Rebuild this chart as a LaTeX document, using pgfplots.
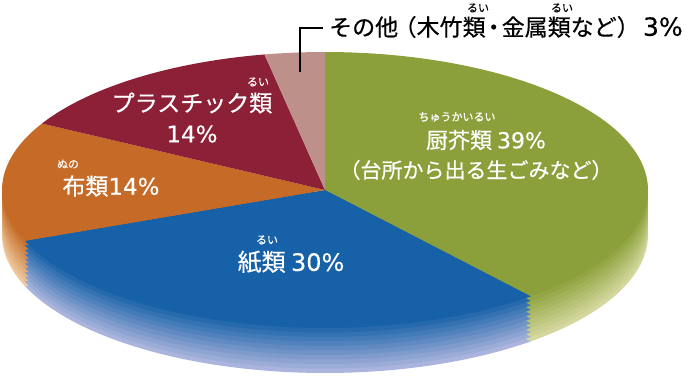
\documentclass[border=0pt]{standalone}
\usepackage{fontspec}
\setmainfont[FakeBold=0.5]{Noto Sans CJK JP}
\newfontfamily\lat[FakeBold=0.3]{DejaVu Sans}
\usepackage{pgfplots}
\pgfplotsset{compat=1.18}
\definecolor{cgreen}{RGB}{139,160,58}
\definecolor{cblue}{RGB}{23,97,168}
\definecolor{corange}{RGB}{197,106,39}
\definecolor{cred}{RGB}{140,32,54}
\definecolor{cpink}{RGB}{189,145,138}
\definecolor{lgreen}{RGB}{212,216,158}
\definecolor{lblue}{RGB}{170,180,220}
\definecolor{lorange}{RGB}{238,200,156}
% data (percent)
\def\vA{39}\def\vB{30}\def\vC{14}\def\vD{14}\def\vE{3}
\pgfmathsetmacro{\aO}{90}
\pgfmathsetmacro{\aA}{\aO-3.6*\vA}
\pgfmathsetmacro{\aB}{\aA-3.6*\vB}
\pgfmathsetmacro{\aC}{\aB-3.6*\vC}
\pgfmathsetmacro{\aD}{\aC-3.6*\vD}
\pgfmathsetmacro{\aE}{\aD-3.6*\vE}
\def\cx{325}\def\cy{190}\def\ra{323}\def\rb{138}
\newcommand\fs[1]{\fontsize{#1}{#1}\selectfont}
\begin{document}
\begin{tikzpicture}
\begin{axis}[x=1pt,y=1pt,xmin=0,xmax=690,ymin=0,ymax=376,y dir=reverse,
  scale only axis,hide axis,clip=false]
\path (0,0) rectangle (690,376);
% side layers
\pgfplotsinvokeforeach{0,10,...,90}{
  \addplot[fill=cgreen!#1!lgreen,draw=none,domain=\aA:\aO,samples=90,variable=\t]
    ({\cx+\ra*cos(\t)},{\cy+45-0.45*#1-\rb*sin(\t)}) -- (\cx,\cy+45-0.45*#1) -- cycle;
  \addplot[fill=cblue!#1!lblue,draw=none,domain=\aB:\aA,samples=70,variable=\t]
    ({\cx+\ra*cos(\t)},{\cy+45-0.45*#1-\rb*sin(\t)}) -- (\cx,\cy+45-0.45*#1) -- cycle;
  \addplot[fill=corange!#1!lorange,draw=none,domain=\aC:\aB,samples=40,variable=\t]
    ({\cx+\ra*cos(\t)},{\cy+45-0.45*#1-\rb*sin(\t)}) -- (\cx,\cy+45-0.45*#1) -- cycle;
}
% top faces
\addplot[fill=cgreen,draw=none,domain=\aA:\aO,samples=90,variable=\t]
  ({\cx+\ra*cos(\t)},{\cy-\rb*sin(\t)}) -- (\cx,\cy) -- cycle;
\addplot[fill=cblue,draw=none,domain=\aB:\aA,samples=70,variable=\t]
  ({\cx+\ra*cos(\t)},{\cy-\rb*sin(\t)}) -- (\cx,\cy) -- cycle;
\addplot[fill=corange,draw=none,domain=\aC:\aB,samples=40,variable=\t]
  ({\cx+\ra*cos(\t)},{\cy-\rb*sin(\t)}) -- (\cx,\cy) -- cycle;
\addplot[fill=cred,draw=none,domain=\aD:\aC,samples=40,variable=\t]
  ({\cx+\ra*cos(\t)},{\cy-\rb*sin(\t)}) -- (\cx,\cy) -- cycle;
\addplot[fill=cpink,draw=none,domain=\aE:\aD,samples=20,variable=\t]
  ({\cx+\ra*cos(\t)},{\cy-\rb*sin(\t)}) -- (\cx,\cy) -- cycle;
% leader line
\draw[black,line width=1.3pt] (300,72) |- (323,28);
% labels
\node[anchor=west,inner sep=0pt,font=\fs{23}] at (329,27) {その他\kern-0.2em（木竹類\kern-0.15em・\kern-0.15em金属類など）\kern-0.2em{\lat\fs{25} 3\%}};
\node[inner sep=0pt,font=\fs{11}] at (478,8) {るい};
\node[inner sep=0pt,font=\fs{11}] at (562,8) {るい};
\begin{scope}[every node/.style={text=white,inner sep=0pt}]
\node[font=\fs{23}] at (192,103) {プラスチック類};
\node[font=\fs{23}] at (192,134) {\lat 14\%};
\node[font=\fs{11}] at (258,82) {るい};
\node[font=\fs{23}] at (111,186) {布類{\lat 14\%}};
\node[font=\fs{11}] at (68,164) {ぬの};
\node[font=\fs{24}] at (291,262) {紙類 {\lat 30\%}};
\node[font=\fs{11}] at (267,240) {るい};
\node[font=\fs{22}] at (486,140) {厨芥類 {\lat 39\%}};
\node[font=\fs{11}] at (457,117) {ちゅうかいるい};
\node[font=\fs{21}] at (476,170) {（台所から出る生ごみなど）};
\end{scope}
\end{axis}
\end{tikzpicture}
\end{document}
